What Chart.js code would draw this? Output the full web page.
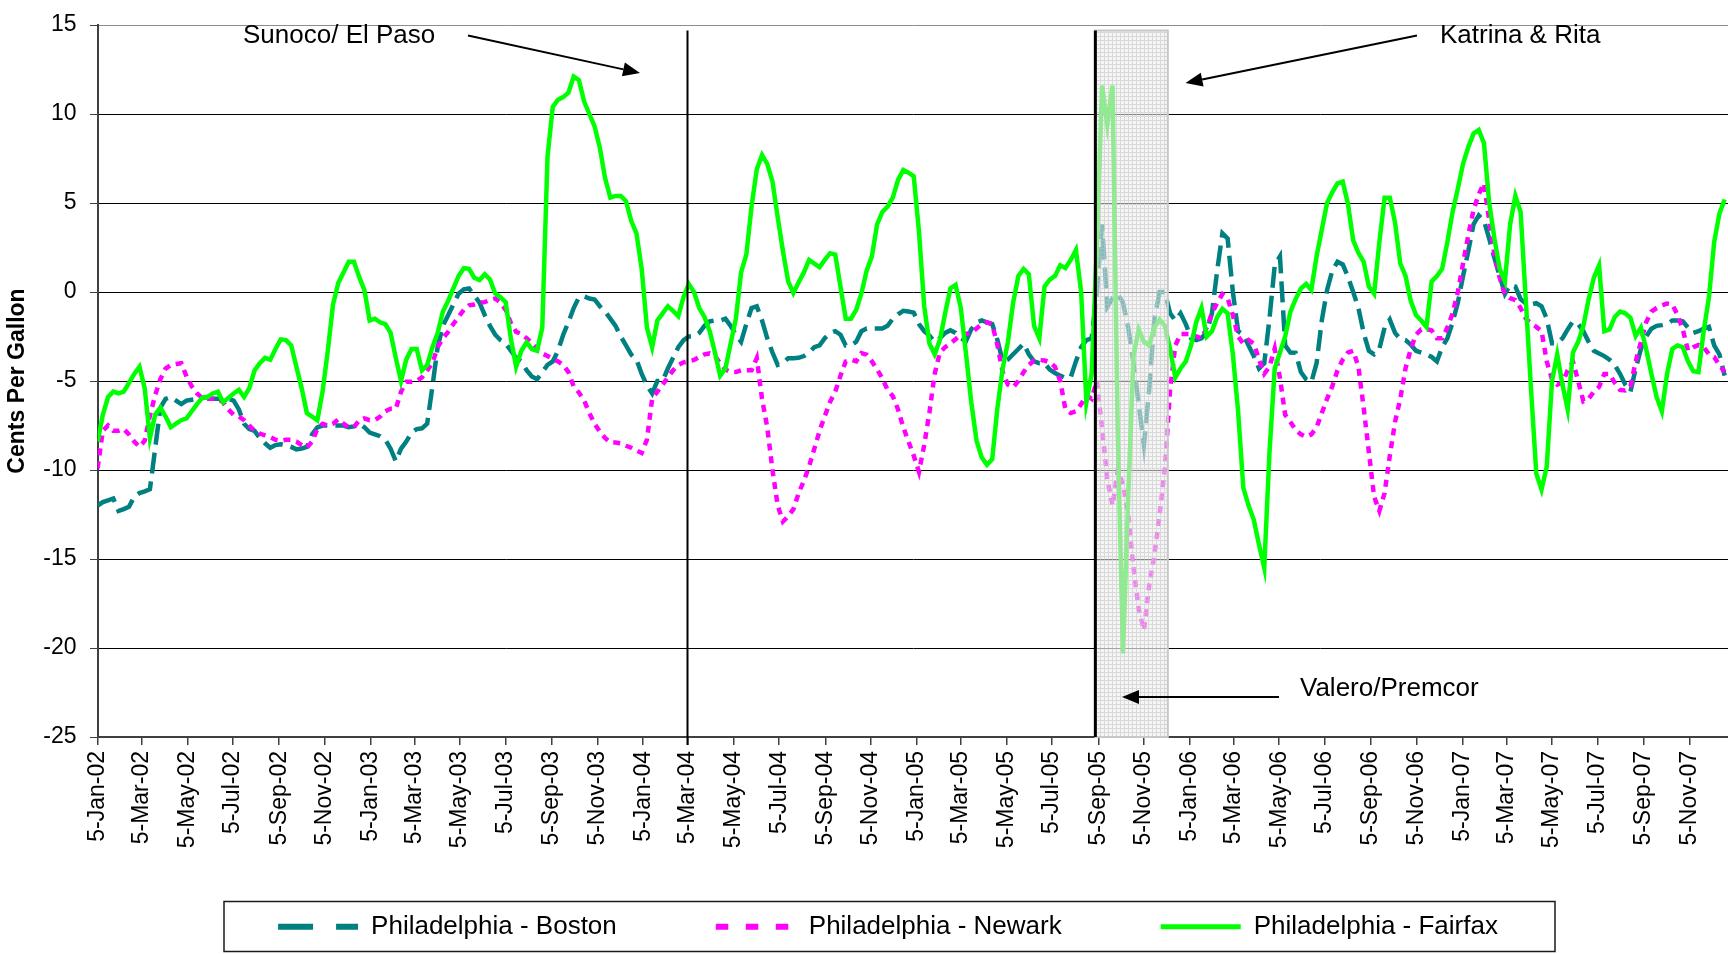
<!DOCTYPE html>
<html>
<head>
<meta charset="utf-8">
<script src="https://cdn.jsdelivr.net/npm/chart.js@4.4.1/dist/chart.umd.min.js"></script>
<style>
html,body{margin:0;padding:0;background:#ffffff;}
#wrap{width:1728px;height:954px;position:relative;}
</style>
</head>
<body>
<div id="wrap"><canvas id="c"></canvas></div>
<script>
// ---------- DATA ----------
const firstWeek = '2002-01-05';
const weekCount = 312;
const categories = [];
for (let i = 0; i < weekCount; i++) {
  const d = new Date(Date.parse(firstWeek + 'T00:00:00Z') + i * 7 * 86400000);
  categories.push(d.toISOString().slice(0, 10));
}

const xTickLabels = [
  '5-Jan-02','5-Mar-02','5-May-02','5-Jul-02','5-Sep-02','5-Nov-02',
  '5-Jan-03','5-Mar-03','5-May-03','5-Jul-03','5-Sep-03','5-Nov-03',
  '5-Jan-04','5-Mar-04','5-May-04','5-Jul-04','5-Sep-04','5-Nov-04',
  '5-Jan-05','5-Mar-05','5-May-05','5-Jul-05','5-Sep-05','5-Nov-05',
  '5-Jan-06','5-Mar-06','5-May-06','5-Jul-06','5-Sep-06','5-Nov-06',
  '5-Jan-07','5-Mar-07','5-May-07','5-Jul-07','5-Sep-07','5-Nov-07'
];

const seriesNames = ['Philadelphia - Boston', 'Philadelphia - Newark', 'Philadelphia - Fairfax'];

const bostonValues = [
  -12.0,-11.8,-11.7,-11.6,-12.3,-12.2,-12.07,-11.5,-11.3,-11.2,
  -11.08,-8.8,-6.5,-6.0,-5.9,-6.1,-6.3,-6.1,-6.05,-6.0,
  -5.95,-5.9,-6.0,-6.0,-6.0,-6.0,-6.1,-6.6,-7.4,-7.7,
  -7.8,-8.2,-8.5,-8.75,-8.6,-8.55,-8.6,-8.7,-8.84,-8.8,
  -8.7,-8.0,-7.6,-7.5,-7.5,-7.5,-7.5,-7.5,-7.6,-7.55,
  -7.4,-7.6,-7.9,-8.0,-8.1,-8.3,-8.8,-9.5,-8.8,-8.4,
  -7.9,-7.7,-7.66,-7.4,-5.3,-3.1,-1.9,-1.3,-0.7,-0.1,
  0.15,0.2,-0.2,-0.6,-1.3,-1.9,-2.4,-2.7,-2.9,-3.3,
  -3.7,-3.9,-4.4,-4.75,-4.9,-4.5,-4.1,-3.9,-3.3,-2.4,
  -1.7,-0.9,-0.3,-0.25,-0.37,-0.42,-0.8,-1.1,-1.5,-1.9,
  -2.5,-3.0,-3.52,-3.8,-4.6,-5.25,-5.7,-5.0,-5.0,-4.3,
  -3.7,-3.1,-2.7,-2.5,-2.5,-2.3,-1.9,-1.65,-1.6,-1.6,
  -1.5,-1.9,-2.4,-2.8,-1.8,-0.9,-0.8,-1.6,-2.6,-3.4,
  -4.1,-4.0,-3.72,-3.72,-3.7,-3.6,-3.4,-3.1,-3.0,-2.6,
  -2.3,-2.2,-2.4,-3.0,-3.0,-2.8,-2.2,-2.05,-2.05,-2.05,
  -2.05,-1.9,-1.5,-1.25,-1.06,-1.1,-1.16,-1.8,-2.2,-2.45,
  -2.8,-2.6,-2.3,-2.15,-2.3,-2.6,-2.75,-2.1,-1.7,-1.6,
  -1.7,-1.8,-2.7,-3.9,-3.8,-3.5,-3.2,-2.9,-3.5,-3.9,
  -4.0,-4.0,-4.36,-4.55,-4.7,-4.83,-4.8,-3.9,-3.1,-2.71,
  -2.6,0.0,3.8,-0.83,-0.35,-0.12,-0.6,-2.0,-4.0,-6.3,
  -8.6,-5.5,-1.5,0.0,0.0,-1.2,-1.6,-1.2,-1.8,-2.6,
  -2.7,-2.6,-2.24,-1.2,1.2,3.3,3.0,0.0,-2.2,-2.4,
  -3.0,-3.6,-4.3,-4.0,-1.5,1.5,2.0,-3.0,-3.4,-3.42,
  -4.5,-4.9,-5.07,-4.0,-1.6,0.1,1.2,1.7,1.55,0.85,
  0.0,-0.9,-2.3,-3.3,-3.5,-3.2,-2.0,-1.55,-2.3,-2.65,
  -2.7,-2.95,-3.3,-3.4,-3.5,-3.65,-3.9,-3.1,-2.6,-1.7,
  -0.6,0.9,2.3,3.8,4.3,4.0,3.0,1.9,0.9,-0.1,
  0.4,0.3,-0.4,-0.65,-0.7,-0.63,-0.8,-1.5,-2.88,-2.88,
  -2.6,-2.1,-1.65,-1.8,-2.2,-2.8,-3.3,-3.45,-3.6,-3.8,
  -4.1,-4.6,-5.2,-5.6,-4.3,-3.2,-2.5,-2.06,-1.9,-1.86,
  -1.8,-1.6,-1.6,-1.65,-2.0,-2.3,-2.2,-2.06,-1.96,-3.0,
  -3.5,-4.7
];

const newarkValues = [
  -9.9,-7.8,-7.5,-7.8,-7.8,-7.7,-8.0,-8.4,-8.7,-8.36,
  -6.94,-5.8,-4.9,-4.3,-4.1,-4.05,-4.0,-4.75,-5.3,-5.7,
  -5.95,-6.0,-6.0,-6.0,-6.2,-6.6,-6.9,-7.0,-7.2,-7.5,
  -7.8,-7.95,-8.05,-8.15,-8.3,-8.36,-8.3,-8.3,-8.4,-8.6,
  -8.75,-8.4,-7.7,-7.4,-7.5,-7.4,-7.15,-7.4,-7.6,-7.6,
  -7.2,-7.1,-7.2,-7.2,-7.0,-6.7,-6.56,-6.56,-5.6,-5.04,
  -5.04,-5.0,-4.8,-4.4,-4.0,-3.1,-2.6,-2.24,-1.8,-1.4,
  -1.0,-0.75,-0.7,-0.6,-0.57,-0.45,-0.37,-0.6,-1.0,-1.75,
  -2.24,-2.35,-2.6,-2.85,-3.2,-3.45,-3.6,-3.75,-3.9,-4.1,
  -4.5,-5.3,-5.65,-6.1,-6.8,-7.4,-7.85,-8.2,-8.45,-8.45,
  -8.5,-8.64,-8.75,-8.9,-9.04,-8.3,-6.0,-5.6,-5.2,-4.8,
  -4.4,-4.1,-3.95,-3.9,-3.82,-3.65,-3.5,-3.45,-3.6,-4.0,
  -4.35,-4.5,-4.5,-4.4,-4.4,-4.4,-3.72,-6.0,-7.6,-10.0,
  -12.0,-12.9,-12.6,-12.2,-11.3,-10.6,-9.8,-8.8,-7.8,-6.97,
  -6.18,-5.6,-4.7,-3.9,-3.8,-3.9,-3.43,-3.52,-3.9,-4.35,
  -4.85,-5.5,-5.85,-6.6,-7.6,-8.4,-9.2,-10.1,-8.6,-6.77,
  -4.6,-3.4,-3.1,-2.9,-2.65,-2.4,-2.36,-2.3,-2.05,-1.8,
  -1.7,-1.8,-3.0,-4.5,-5.2,-5.35,-5.0,-4.5,-4.1,-3.85,
  -3.82,-3.85,-3.95,-4.2,-5.0,-6.6,-6.8,-6.7,-6.3,-5.8,
  -6.0,-5.0,-7.67,-10.5,-12.0,-10.0,-10.8,-12.5,-15.5,-17.8,
  -19.0,-16.5,-14.8,-12.5,-9.9,-5.5,-3.0,-2.36,-2.36,-2.36,
  -2.5,-2.6,-2.0,-1.2,-0.6,-0.12,-0.35,-1.3,-2.5,-2.9,
  -2.7,-2.9,-3.8,-4.6,-4.2,-3.18,-4.83,-6.9,-7.3,-7.75,
  -8.0,-8.14,-8.0,-7.6,-6.8,-6.0,-5.3,-4.4,-3.8,-3.4,
  -3.3,-4.2,-6.5,-9.0,-11.5,-12.3,-11.3,-9.2,-7.3,-6.0,
  -4.3,-3.2,-2.4,-2.1,-2.08,-2.16,-2.6,-2.6,-2.0,-1.2,
  0.0,1.6,3.2,4.6,5.5,6.1,4.0,2.1,0.8,-0.15,
  -0.35,-0.45,-0.9,-1.5,-1.75,-1.96,-2.2,-3.9,-4.9,-5.2,
  -5.1,-4.4,-3.9,-5.0,-6.14,-6.0,-5.6,-5.33,-4.6,-4.6,
  -5.1,-5.5,-5.53,-5.3,-3.9,-2.8,-1.7,-1.1,-0.9,-0.75,
  -0.65,-0.7,-1.3,-2.1,-3.29,-3.1,-2.98,-3.1,-3.5,-3.65,
  -4.1,-4.5
];

const fairfaxValues = [
  -8.4,-6.9,-5.9,-5.6,-5.7,-5.6,-5.1,-4.6,-4.2,-5.4,
  -8.2,-6.9,-6.5,-7.0,-7.6,-7.4,-7.2,-7.1,-6.7,-6.3,
  -5.95,-5.9,-5.7,-5.6,-6.2,-5.95,-5.7,-5.5,-5.9,-5.4,
  -4.4,-4.0,-3.7,-3.8,-3.2,-2.66,-2.7,-3.0,-4.2,-5.4,
  -6.8,-7.0,-7.2,-5.6,-3.3,-0.7,0.5,1.1,1.7,1.7,
  0.85,0.1,-1.6,-1.5,-1.7,-1.8,-2.3,-3.7,-5.0,-3.8,
  -3.2,-3.2,-4.4,-4.1,-3.1,-2.3,-1.1,-0.5,0.2,0.9,
  1.34,1.3,0.8,0.67,1.0,0.7,-0.08,-0.3,-0.57,-2.64,
  -4.2,-3.3,-2.83,-3.2,-3.3,-2.0,7.6,10.4,10.8,10.95,
  11.2,12.1,11.9,10.7,10.0,9.3,8.1,6.4,5.3,5.4,
  5.4,5.1,4.0,3.3,1.3,-2.0,-3.1,-1.6,-1.2,-0.8,
  -1.06,-1.36,-0.28,0.45,0.0,-0.9,-1.4,-2.2,-3.4,-4.7,
  -4.3,-2.9,-1.5,1.1,2.1,4.8,6.9,7.7,7.2,6.2,
  4.2,2.3,0.6,-0.05,0.55,1.1,1.8,1.6,1.4,1.8,
  2.18,2.1,0.3,-1.5,-1.5,-1.0,-0.08,1.2,2.0,3.8,
  4.5,4.8,5.3,6.3,6.85,6.7,6.5,3.4,-0.8,-2.9,
  -3.5,-2.7,-1.2,0.2,0.4,-0.9,-3.5,-6.2,-8.35,-9.3,
  -9.7,-9.4,-6.5,-4.3,-2.8,-0.6,0.9,1.3,1.0,-1.9,
  -2.6,0.3,0.7,0.9,1.5,1.35,1.8,2.36,0.0,-6.2,
  -4.6,2.5,11.6,9.4,11.6,-7.9,-20.3,-11.5,-3.6,-2.1,
  -2.8,-3.0,-2.0,-1.55,-1.9,-3.2,-4.8,-4.3,-3.9,-3.0,
  -1.7,-0.9,-2.5,-2.2,-1.4,-0.95,-1.2,-3.5,-6.7,-11.0,
  -12.0,-12.8,-14.2,-15.5,-9.0,-4.3,-3.4,-2.5,-1.1,-0.4,
  0.2,0.45,0.12,2.0,3.5,5.0,5.6,6.1,6.2,4.95,
  2.9,2.2,1.7,0.3,-0.1,2.8,5.3,5.3,3.9,1.6,
  0.9,-0.5,-1.3,-1.6,-1.96,0.6,0.9,1.3,2.8,4.5,
  5.8,7.2,8.14,8.9,9.1,8.35,5.0,3.0,1.3,0.6,
  3.8,5.4,4.5,-0.5,-5.5,-10.2,-11.1,-9.8,-5.0,-3.5,
  -5.2,-6.6,-3.4,-2.8,-1.9,-0.4,0.8,1.5,-2.2,-2.1,
  -1.4,-1.1,-1.2,-1.45,-2.47,-2.0,-3.2,-4.6,-5.9,-6.7,
  -4.6,-3.2,-3.0,-3.1,-3.9,-4.45,-4.5,-2.2,-0.3,2.8,
  4.4,5.2
];

// ---------- HELPERS ----------
const DAY0 = Date.parse(firstWeek + 'T00:00:00Z');
const dayOf = s => (Date.parse(s + 'T00:00:00Z') - DAY0) / 86400000;
const MONTHS = ['Jan','Feb','Mar','Apr','May','Jun','Jul','Aug','Sep','Oct','Nov','Dec'];
const tickDays = xTickLabels.map(l => {
  const [d, m, y] = l.split('-');
  return (Date.UTC(2000 + Number(y), MONTHS.indexOf(m), Number(d)) - DAY0) / 86400000;
});
const toPoints = vals => categories.map((c, i) => ({ x: dayOf(c), y: vals[i] }));

const FONT = "'Liberation Sans', Arial, Helvetica, sans-serif";

// annotation settings
const refinery1Date = '2004-03-03';
const hurricaneDate = '2005-09-01';
const shadeEndDate = '2005-12-07';

// shading pattern
const pc = document.createElement('canvas');
pc.width = 4; pc.height = 4;
const pctx = pc.getContext('2d');
pctx.fillStyle = 'rgba(236,236,236,0.55)';
pctx.fillRect(0, 0, 4, 4);
pctx.fillStyle = 'rgba(195,195,195,0.55)';
pctx.fillRect(0, 0, 4, 1);
pctx.fillRect(0, 1, 1, 3);

function arrow(ctx, x1, y1, x2, y2) {
  const ang = Math.atan2(y2 - y1, x2 - x1);
  const L = 17, W = 7;
  const bx = x2 - L * Math.cos(ang), by = y2 - L * Math.sin(ang);
  ctx.beginPath();
  ctx.moveTo(x1, y1);
  ctx.lineTo(bx, by);
  ctx.lineWidth = 2;
  ctx.strokeStyle = '#000';
  ctx.stroke();
  ctx.beginPath();
  ctx.moveTo(x2, y2);
  ctx.lineTo(bx + W * Math.sin(ang), by - W * Math.cos(ang));
  ctx.lineTo(bx - W * Math.sin(ang), by + W * Math.cos(ang));
  ctx.closePath();
  ctx.fillStyle = '#000';
  ctx.fill();
}

const LEGEND_PAD = 99;
const LEGEND_BOX_H = 50;
const LEGEND_TEXT_Y = 926.7;

const notesPlugin = {
  id: 'notes',
  afterLayout(chart) {
    const lg = chart.legend;
    if (lg) {
      lg.left += 24; lg.right += 24;
      lg.top = LEGEND_TEXT_Y - LEGEND_PAD - 13;
      lg.bottom = chart.height;
    }
  },
  afterDatasetsDraw(chart) {
    const { ctx, chartArea: a, scales: { x } } = chart;
    ctx.save();
    const top = a.top + 5.5;
    // shaded hurricane period
    const s0 = x.getPixelForValue(dayOf(hurricaneDate));
    const s1 = x.getPixelForValue(dayOf(shadeEndDate));
    ctx.fillStyle = ctx.createPattern(pc, 'repeat');
    ctx.fillRect(s0, top, s1 - s0, a.bottom - top);
    ctx.strokeStyle = '#c8c8c8';
    ctx.lineWidth = 2;
    ctx.strokeRect(s0, top, s1 - s0, a.bottom - top);
    // bold hurricane line
    ctx.beginPath();
    ctx.moveTo(s0, top);
    ctx.lineTo(s0, a.bottom);
    ctx.lineWidth = 3;
    ctx.strokeStyle = '#000';
    ctx.stroke();
    // Sunoco / El Paso line
    const v0 = Math.round(x.getPixelForValue(dayOf(refinery1Date))) + 0.5;
    ctx.beginPath();
    ctx.moveTo(v0, top);
    ctx.lineTo(v0, a.bottom + 8);
    ctx.lineWidth = 2;
    ctx.stroke();
    ctx.restore();
  },
  afterDraw(chart) {
    const { ctx } = chart;
    ctx.save();
    ctx.fillStyle = '#000';
    ctx.font = '26px ' + FONT;
    ctx.textBaseline = 'middle';
    ctx.textAlign = 'left';
    ctx.fillText('Sunoco/ El Paso', 243, 36);
    ctx.fillText('Katrina & Rita', 1440, 36);
    ctx.fillText('Valero/Premcor', 1300, 689);
    arrow(ctx, 468, 35.5, 640, 73);
    arrow(ctx, 1417, 35.5, 1185.5, 83);
    arrow(ctx, 1279, 697, 1122, 697);
    // legend frame
    ctx.strokeStyle = '#1a1a1a';
    ctx.lineWidth = 1.5;
    ctx.strokeRect(224, 901.5, 1331, 50);
    ctx.restore();
  }
};

const legendDash = [[35, 23], [12.5, 17.5], []];
const legendWidth = [6, 6, 5];

new Chart(document.getElementById('c'), {
  type: 'line',
  data: {
    datasets: [
      { label: seriesNames[0], data: toPoints(bostonValues), borderColor: '#008080', backgroundColor: '#008080',
        borderWidth: 4.5, borderDash: [21, 8], pointRadius: 0, tension: 0, order: 3 },
      { label: seriesNames[1], data: toPoints(newarkValues), borderColor: '#ff00ff', backgroundColor: '#ff00ff',
        borderWidth: 4.5, borderDash: [7, 6], pointRadius: 0, tension: 0, order: 2 },
      { label: seriesNames[2], data: toPoints(fairfaxValues), borderColor: '#00ff00', backgroundColor: '#00ff00',
        borderWidth: 4.5, pointRadius: 0, tension: 0, order: 1 }
    ]
  },
  options: {
    responsive: true,
    maintainAspectRatio: false,
    animation: false,
    devicePixelRatio: 1,
    layout: { padding: { top: 11.7, left: 0, right: 0, bottom: 0 } },
    plugins: {
      tooltip: { enabled: false },
      legend: {
        display: true,
        position: 'bottom',
        align: 'center',
        maxHeight: LEGEND_BOX_H,
        labels: {
          usePointStyle: true,
          pointStyle: 'line',
          pointStyleWidth: 80,
          boxHeight: 26,
          padding: LEGEND_PAD,
          color: '#000',
          font: { family: FONT, size: 26 },
          generateLabels: chart => chart.data.datasets.map((ds, i) => ({
            text: ds.label,
            fillStyle: ds.borderColor,
            strokeStyle: ds.borderColor,
            lineWidth: legendWidth[i],
            lineDash: legendDash[i],
            lineCap: 'butt',
            pointStyle: 'line',
            fontColor: '#000',
            hidden: false,
            datasetIndex: i
          }))
        }
      }
    },
    scales: {
      x: {
        type: 'linear',
        min: 0,
        max: 2181.5,
        afterBuildTicks: s => { s.ticks = tickDays.map(v => ({ value: v })); },
        afterFit: s => { s.height = 954 - LEGEND_BOX_H - 737; },
        grid: { drawOnChartArea: false, tickLength: 8, tickColor: '#404040', lineWidth: 1.5 },
        border: { display: true, color: '#404040', width: 2 },
        ticks: {
          autoSkip: false,
          minRotation: 90,
          maxRotation: 90,
          padding: 6,
          color: '#000',
          font: { family: FONT, size: 23 },
          callback: (v, i) => xTickLabels[i]
        }
      },
      y: {
        min: -25,
        max: 15,
        afterFit: s => { s.width = 97.6; },
        ticks: { stepSize: 5, padding: 13.5, color: '#000', font: { family: FONT, size: 23, lineHeight: 1 } },
        grid: {
          color: c => (c.tick && c.tick.value === 15) ? '#8c8c8c' : '#000000',
          lineWidth: 1,
          tickLength: 7.6,
          tickColor: '#404040'
        },
        border: { display: true, color: '#404040', width: 2 },
        title: {
          display: true,
          text: 'Cents Per Gallon',
          color: '#000',
          font: { family: FONT, size: 23, weight: 'bold' },
          padding: { top: 4.2, bottom: 0 }
        }
      }
    }
  },
  plugins: [notesPlugin]
});
</script>
</body>
</html>
